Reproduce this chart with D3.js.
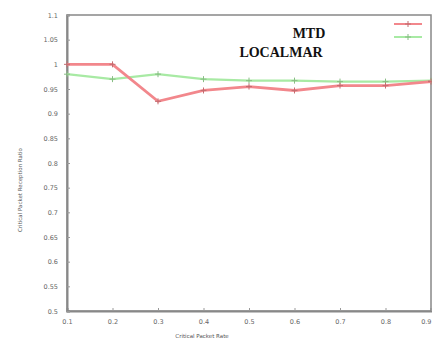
<!DOCTYPE html>
<html>
<head>
<meta charset="utf-8">
<script src="https://d3js.org/d3.v7.min.js"></script>
<style>
	body { margin: 0; background: #fff; }
	svg { display: block; }
	.tick text { font-family: "DejaVu Sans", sans-serif; font-size: 6.5px; fill: #666; }
	.title { font-family: "Liberation Serif", serif; font-weight: bold; font-size: 14px; fill: #111; }
</style>
</head>
<body>
<script>
	var rates = [0.1, 0.2, 0.3, 0.4, 0.5, 0.6, 0.7, 0.8, 0.9];
	var mtd = [1.0, 1.0, 0.925, 0.947, 0.955, 0.947, 0.957, 0.957, 0.965];
	var localmar = [0.98, 0.97, 0.98, 0.97, 0.967, 0.967, 0.965, 0.965, 0.967];
	var yTicks = [0.5, 0.55, 0.6, 0.65, 0.7, 0.75, 0.8, 0.85, 0.9, 0.95, 1, 1.05, 1.1];

	var width = 432, height = 341;
	var margin = { top: 15, right: 0, bottom: 30, left: 67 };

	var svg = d3.select("body").append("svg")
			.attr("width", width)
			.attr("height", height);

	var x = d3.scaleLinear().domain([0.1, 0.9]).range([margin.left, width - 1]);
	var y = d3.scaleLinear().domain([0.5, 1.1]).range([height - margin.bottom, margin.top]);

	// frame
	svg.append("rect")
			.attr("x", margin.left).attr("y", margin.top)
			.attr("width", width - 1 - margin.left)
			.attr("height", y(0.5) - margin.top)
			.attr("fill", "none").attr("stroke", "#888").attr("stroke-width", 1.5);

	var xAxis = svg.append("g")
			.attr("transform", "translate(0," + y(0.5) + ")")
			.call(d3.axisBottom(x).tickValues(rates).tickSize(-3).tickPadding(8).tickFormat(d3.format(".1f")));
	xAxis.selectAll(".tick text")
			.attr("text-anchor", function(d, i) { return i === rates.length - 1 ? "end" : "middle"; });
	var yAxis = svg.append("g")
			.attr("transform", "translate(" + margin.left + ",0)")
			.call(d3.axisLeft(y).tickValues(yTicks).tickSize(-3).tickPadding(9).tickFormat(function(d) { return d3.format("")(+d.toFixed(2)); }));
	[xAxis, yAxis].forEach(function(a) {
		a.select(".domain").attr("stroke", "#888").attr("stroke-width", 2);
		a.selectAll(".tick line").attr("stroke", "#999");
	});

	svg.append("text")
			.attr("x", 202).attr("y", 338)
			.attr("text-anchor", "middle")
			.style("font-family", "DejaVu Sans, sans-serif").style("font-size", "5.5px").style("fill", "#555")
			.text("Critical Packet Rate");
	svg.append("text")
			.attr("transform", "translate(22,190) rotate(-90)")
			.attr("text-anchor", "middle")
			.style("font-family", "DejaVu Sans, sans-serif").style("font-size", "5.5px").style("fill", "#555")
			.text("Critical Packet Reception Ratio");

	var line = d3.line()
			.x(function(d, i) { return x(rates[i]); })
			.y(function(d) { return y(d); });

	var series = [
		{ name: "LOCALMAR", values: localmar, color: "#a8eaa4", width: 2.2 },
		{ name: "MTD", values: mtd, color: "#f2878c", width: 2.8 }
	];

	series.forEach(function(s) {
		svg.append("path")
				.datum(s.values)
				.attr("fill", "none")
				.attr("stroke", s.color)
				.attr("stroke-width", s.width)
				.attr("d", line);
		svg.selectAll(null)
				.data(s.values)
				.enter().append("path")
				.attr("transform", function(d, i) { return "translate(" + x(rates[i]) + "," + y(d) + ")"; })
				.attr("d", "M-3,0H3M0,-3V3")
				.attr("stroke", d3.color(s.color).darker(0.6))
				.attr("stroke-width", 1);
	});

	// legend
	var legend = svg.append("g").attr("transform", "translate(394,24)");
	[{ color: "#f2878c", dy: 0 }, { color: "#a8eaa4", dy: 13 }].forEach(function(l) {
		legend.append("line")
				.attr("x1", 0).attr("x2", 28).attr("y1", l.dy).attr("y2", l.dy)
				.attr("stroke", l.color).attr("stroke-width", 2);
		legend.append("path")
				.attr("transform", "translate(14," + l.dy + ")")
				.attr("d", "M-3,0H3M0,-3V3")
				.attr("stroke", d3.color(l.color).darker(0.6));
	});

	svg.append("text").attr("class", "title").attr("x", 309).attr("y", 38).attr("text-anchor", "middle").text("MTD");
	svg.append("text").attr("class", "title").attr("x", 281).attr("y", 57).attr("text-anchor", "middle").text("LOCALMAR");
</script>
</body>
</html>
